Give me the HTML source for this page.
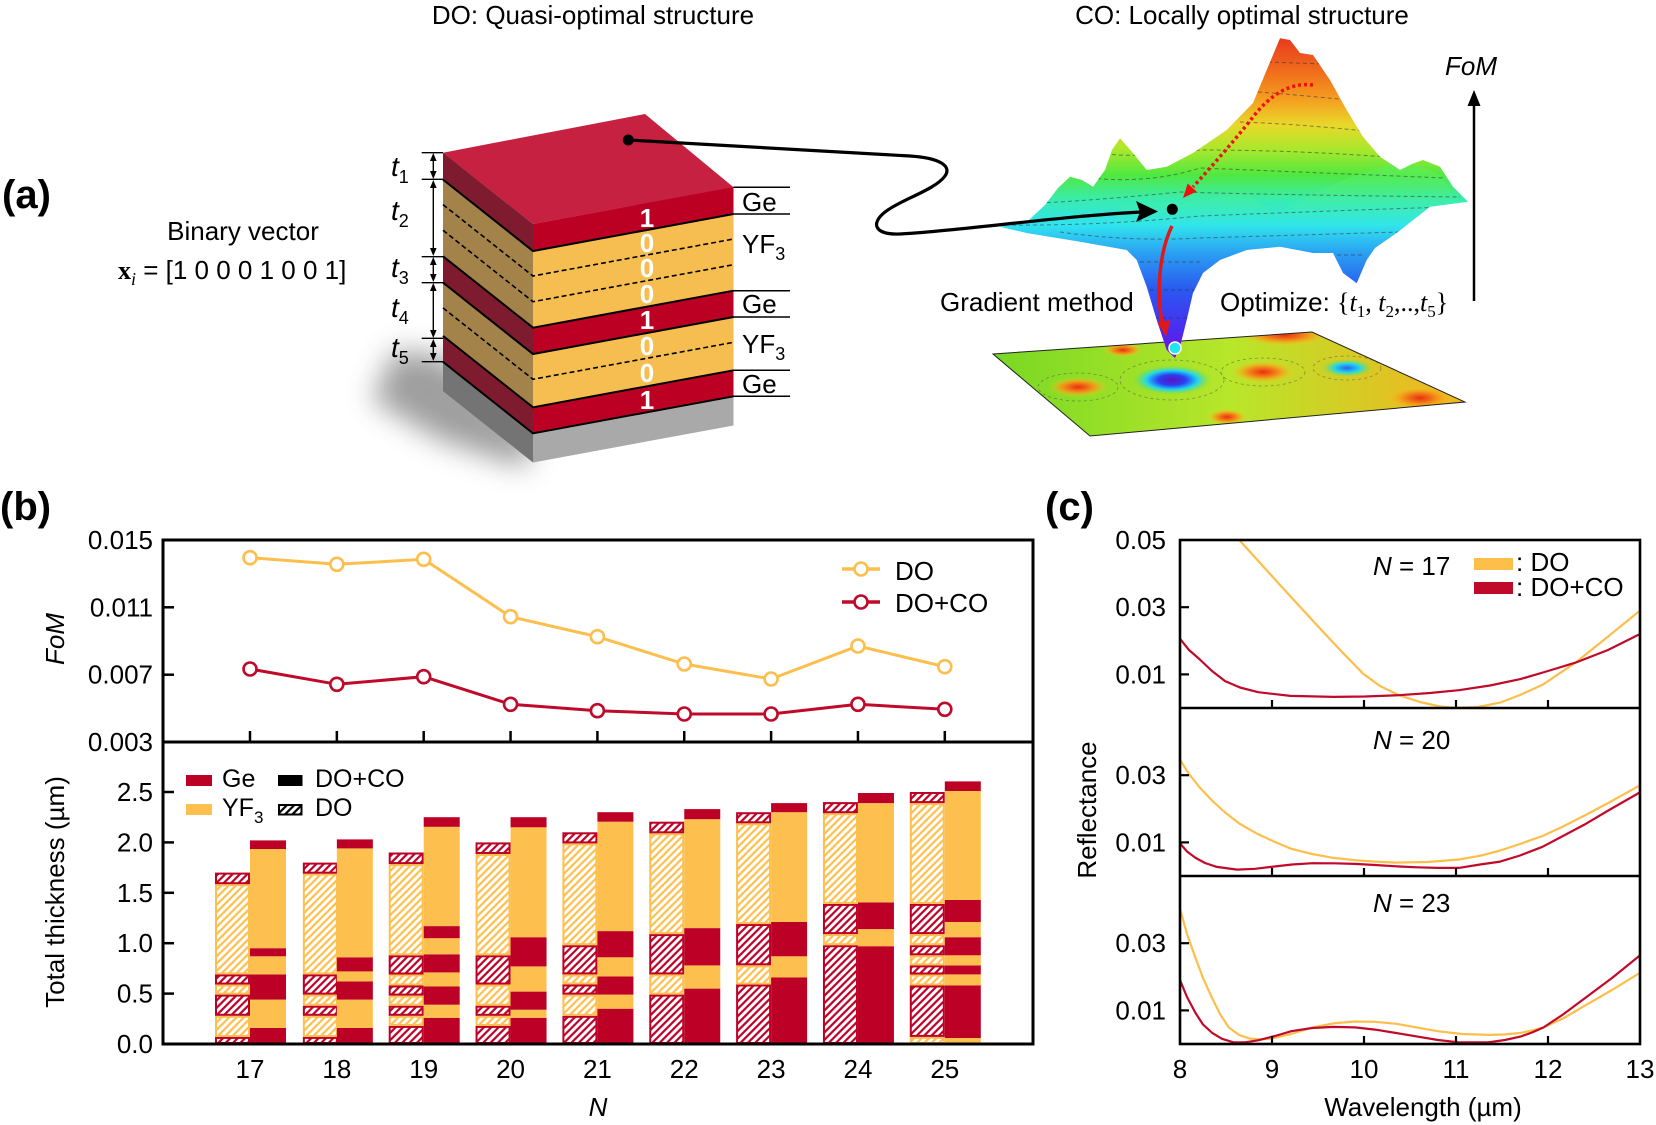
<!DOCTYPE html>
<html><head><meta charset="utf-8">
<style>
html,body{margin:0;padding:0;background:#fff;}
svg{display:block;}
text{font-family:"Liberation Sans",Arial,sans-serif;}
</style></head><body>
<svg width="1656" height="1125" viewBox="0 0 1656 1125" xmlns="http://www.w3.org/2000/svg">
<defs>
 <pattern id="hY" patternUnits="userSpaceOnUse" width="5.2" height="5.2" patternTransform="rotate(45)">
  <rect width="5.2" height="5.2" fill="#fff"/><rect x="1.5" width="2.2" height="5.2" fill="#FDC04F"/>
 </pattern>
 <pattern id="hR" patternUnits="userSpaceOnUse" width="5.2" height="5.2" patternTransform="rotate(45)">
  <rect width="5.2" height="5.2" fill="#fff"/><rect x="1.5" width="2.2" height="5.2" fill="#BD0026"/>
 </pattern>
 <pattern id="hK" patternUnits="userSpaceOnUse" width="5.2" height="5.2" patternTransform="rotate(45)">
  <rect width="5.2" height="5.2" fill="#fff"/><rect x="1.5" width="2.2" height="5.2" fill="#000"/>
 </pattern>
 <filter id="blur" x="-50%" y="-50%" width="200%" height="200%"><feGaussianBlur stdDeviation="14"/></filter>
 <linearGradient id="surf" gradientUnits="userSpaceOnUse" x1="0" y1="38" x2="0" y2="358">
  <stop offset="0" stop-color="#e83a1e"/>
  <stop offset="0.1" stop-color="#f06a1c"/>
  <stop offset="0.194" stop-color="#f5a020"/>
  <stop offset="0.272" stop-color="#e8d82a"/>
  <stop offset="0.35" stop-color="#a8e82c"/>
  <stop offset="0.428" stop-color="#50e840"/>
  <stop offset="0.506" stop-color="#38ecb0"/>
  <stop offset="0.584" stop-color="#30e4f0"/>
  <stop offset="0.678" stop-color="#2a9cf2"/>
  <stop offset="0.7875" stop-color="#2a58f0"/>
  <stop offset="0.9125" stop-color="#4a2cf0"/>
  <stop offset="1" stop-color="#7a10d8"/>
 </linearGradient>
 <linearGradient id="ridge" gradientUnits="userSpaceOnUse" x1="0" y1="160" x2="0" y2="240">
  <stop offset="0" stop-color="#60f050" stop-opacity="0.55"/>
  <stop offset="1" stop-color="#40f0d0" stop-opacity="0"/>
 </linearGradient>
 <linearGradient id="floor" gradientUnits="userSpaceOnUse" x1="993" y1="0" x2="1468" y2="0">
  <stop offset="0" stop-color="#78d824"/>
  <stop offset="0.5" stop-color="#b8e62a"/>
  <stop offset="1" stop-color="#f2b220"/>
 </linearGradient>
 <radialGradient id="gBlue">
  <stop offset="0" stop-color="#6010c0"/>
  <stop offset="0.35" stop-color="#2a40f0"/>
  <stop offset="0.65" stop-color="#20d8f0"/>
  <stop offset="1" stop-color="#80e030" stop-opacity="0"/>
 </radialGradient>
 <radialGradient id="gCyan">
  <stop offset="0" stop-color="#2a60f0"/>
  <stop offset="0.5" stop-color="#20d8f0"/>
  <stop offset="1" stop-color="#80e030" stop-opacity="0"/>
 </radialGradient>
 <radialGradient id="gOr">
  <stop offset="0" stop-color="#e83010"/>
  <stop offset="0.5" stop-color="#f39018"/>
  <stop offset="1" stop-color="#f0d020" stop-opacity="0"/>
 </radialGradient>
 <clipPath id="surfClip">
  <path d="M1000,226.7 L1026.7,222 L1045,205 L1058,188 L1070,176.7 L1082,180 L1093,186.7 L1105,170 L1112,150 L1120,138.3 L1133,153 L1146.7,170 L1166.7,166.7 L1193,153 L1226.7,130 L1253,103 L1266.7,70 L1280,38.3 L1290,40 L1300,53 L1313,55 L1330,80 L1346.7,110 L1363,136.7 L1380,156.7 L1400,170 L1412,164 L1423,160 L1440,166.7 L1453,186.7 L1468,201.7 L1430,206.7 L1396.7,233 L1375,248 L1366.7,260 L1356.7,283.3 L1343,273 L1333,253 L1313,253 L1280,246.7 L1246.7,250 L1220,260 L1203,273 L1193,293 L1186.7,320 L1180,346.7 L1175,358 L1166.7,350 L1156.7,320 L1146.7,286.7 L1136.7,260 L1126.7,250 L1080,241.7 L1026.7,233 Z"/>
 </clipPath>
 <clipPath id="floorClip"><polygon points="993,354 1312,332 1465,402 1090,436"/></clipPath>
 <clipPath id="c1"><rect x="1180" y="540" width="460" height="168"/></clipPath>
 <clipPath id="c2"><rect x="1180" y="708" width="460" height="168"/></clipPath>
 <clipPath id="c3"><rect x="1180" y="876" width="460" height="168"/></clipPath>
</defs>

<!-- ===================== PANEL (a) ===================== -->
<text x="2" y="208" font-size="40" font-weight="bold">(a)</text>
<text x="593" y="24" font-size="26" text-anchor="middle">DO: Quasi-optimal structure</text>
<text x="1242" y="24" font-size="26" text-anchor="middle">CO: Locally optimal structure</text>

<text x="243" y="240" font-size="26" text-anchor="middle">Binary vector</text>
<text x="118" y="279" font-size="26"><tspan font-family="Liberation Serif, serif" font-weight="bold">x</tspan><tspan font-family="Liberation Serif, serif" font-style="italic" font-size="18" dy="6">i</tspan><tspan dy="-6"> = [1 0 0 0 1 0 0 1]</tspan></text>

<!-- shadow -->
<polygon points="395,350 443,356 533,440 525,468 440,440 372,400" fill="#505050" opacity="0.55" filter="url(#blur)"/>

<!-- stack: top face -->
<polygon points="443,152.7 645,114 733.5,187.3 533,224" fill="#C72142"/>
<!-- right face -->
<polygon points="533,224 733.5,187 733.5,214 533,251" fill="#BC0024"/>
<polygon points="533,251 733.5,214 733.5,290.7 533,327.7" fill="#F6BE50"/>
<polygon points="533,327.7 733.5,290.7 733.5,317 533,354" fill="#BC0024"/>
<polygon points="533,354 733.5,317 733.5,370.3 533,407.3" fill="#F6BE50"/>
<polygon points="533,407.3 733.5,370.3 733.5,396.3 533,433.3" fill="#BC0024"/>
<polygon points="533,433.3 733.5,396.3 733.5,425.5 533,462.5" fill="#A9A9A9"/>
<!-- left face -->
<polygon points="443,152.6 533,224 533,251 443,179.6" fill="#7F1B2E"/>
<polygon points="443,179.6 533,251 533,327.7 443,256.3" fill="#A3834A"/>
<polygon points="443,256.3 533,327.7 533,354 443,282.6" fill="#7F1B2E"/>
<polygon points="443,282.6 533,354 533,407.3 443,335.9" fill="#A3834A"/>
<polygon points="443,335.9 533,407.3 533,433.3 443,361.9" fill="#7F1B2E"/>
<polygon points="443,361.9 533,433.3 533,462.5 443,391.1" fill="#747474"/>
<!-- boundary lines -->
<g fill="none" stroke="#000" stroke-width="2">
 <polyline points="443,179.6 533,251 733.5,214"/>
 <polyline points="443,256.3 533,327.7 733.5,290.7"/>
 <polyline points="443,282.6 533,354 733.5,317"/>
 <polyline points="443,335.9 533,407.3 733.5,370.3"/>
 <polyline points="443,361.9 533,433.3 733.5,396.3"/>
</g>
<g fill="none" stroke="#000" stroke-width="1.6" stroke-dasharray="5,3">
 <polyline points="443,204.6 533,276 733.5,239"/>
 <polyline points="443,230.3 533,301.7 733.5,264.7"/>
 <polyline points="443,307.9 533,379.3 733.5,342.3"/>
</g>
<!-- binary digits -->
<g font-size="26" font-weight="bold" text-anchor="middle" fill="#ffffff" style="fill:#ffffff">
 <text x="647" y="227" style="fill:#fff">1</text>
 <text x="647" y="252" style="fill:#fff">0</text>
 <text x="647" y="277" style="fill:#fff">0</text>
 <text x="647" y="303" style="fill:#fff">0</text>
 <text x="647" y="329" style="fill:#fff">1</text>
 <text x="647" y="355" style="fill:#fff">0</text>
 <text x="647" y="382" style="fill:#fff">0</text>
 <text x="647" y="409" style="fill:#fff">1</text>
</g>
<!-- material labels -->
<g stroke="#000" stroke-width="1.5">
 <line x1="733.5" y1="187.3" x2="790" y2="187.3"/>
 <line x1="733.5" y1="214" x2="790" y2="214"/>
 <line x1="733.5" y1="290.7" x2="790" y2="290.7"/>
 <line x1="733.5" y1="317" x2="790" y2="317"/>
 <line x1="733.5" y1="370.3" x2="790" y2="370.3"/>
 <line x1="733.5" y1="396.3" x2="790" y2="396.3"/>
</g>
<text x="742" y="211" font-size="26">Ge</text>
<text x="742" y="253" font-size="26">YF<tspan font-size="18" dy="7">3</tspan></text>
<text x="742" y="313" font-size="26">Ge</text>
<text x="742" y="353" font-size="26">YF<tspan font-size="18" dy="7">3</tspan></text>
<text x="742" y="393" font-size="26">Ge</text>

<!-- thickness markers -->
<g stroke="#000" stroke-width="1.4">
 <line x1="421.7" y1="152.7" x2="443" y2="152.7"/>
 <line x1="421.7" y1="179.3" x2="443" y2="179.3"/>
 <line x1="421.7" y1="256.7" x2="443" y2="256.7"/>
 <line x1="421.7" y1="282.7" x2="443" y2="282.7"/>
 <line x1="421.7" y1="338.3" x2="443" y2="338.3"/>
 <line x1="421.7" y1="361.7" x2="443" y2="361.7"/>
 <line x1="433.3" y1="155" x2="433.3" y2="177"/>
 <line x1="433.3" y1="182" x2="433.3" y2="254"/>
 <line x1="433.3" y1="259" x2="433.3" y2="280"/>
 <line x1="433.3" y1="285" x2="433.3" y2="336"/>
 <line x1="433.3" y1="341" x2="433.3" y2="359"/>
</g>
<g fill="#000">
 <polygon points="433.3,153 430,161 436.6,161"/><polygon points="433.3,179 430,171 436.6,171"/>
 <polygon points="433.3,180 430,188 436.6,188"/><polygon points="433.3,256 430,248 436.6,248"/>
 <polygon points="433.3,257 430,265 436.6,265"/><polygon points="433.3,282 430,274 436.6,274"/>
 <polygon points="433.3,283 430,291 436.6,291"/><polygon points="433.3,338 430,330 436.6,330"/>
 <polygon points="433.3,339 430,347 436.6,347"/><polygon points="433.3,361 430,353 436.6,353"/>
</g>
<g font-family="Liberation Serif, serif" font-style="italic" font-size="28">
 <text x="391" y="176">t<tspan font-style="normal" font-size="18" dy="7">1</tspan></text>
 <text x="391" y="220">t<tspan font-style="normal" font-size="18" dy="7">2</tspan></text>
 <text x="391" y="277">t<tspan font-style="normal" font-size="18" dy="7">3</tspan></text>
 <text x="391" y="317">t<tspan font-style="normal" font-size="18" dy="7">4</tspan></text>
 <text x="391" y="357">t<tspan font-style="normal" font-size="18" dy="7">5</tspan></text>
</g>

<!-- floor -->
<polygon points="993,354 1312,332 1465,402 1090,436" fill="url(#floor)"/>
<g clip-path="url(#floorClip)">
 <ellipse cx="1078" cy="387" rx="30" ry="10" fill="url(#gOr)"/>
 <ellipse cx="1263" cy="372" rx="32" ry="11" fill="url(#gOr)"/>
 <ellipse cx="1420" cy="398" rx="34" ry="12" fill="url(#gOr)"/>
 <ellipse cx="1285" cy="335" rx="45" ry="11" fill="url(#gOr)"/>
 <ellipse cx="1227" cy="417" rx="20" ry="8" fill="url(#gOr)"/>
 <ellipse cx="1123" cy="350" rx="20" ry="7" fill="url(#gOr)"/>
 <ellipse cx="1347" cy="368" rx="26" ry="9" fill="url(#gCyan)"/>
 <ellipse cx="1172" cy="380" rx="40" ry="15" fill="url(#gBlue)"/>
 <g fill="none" stroke="#444" stroke-width="0.8" stroke-dasharray="3,3" opacity="0.5">
  <ellipse cx="1172" cy="380" rx="52" ry="20"/>
  <ellipse cx="1078" cy="387" rx="40" ry="14"/>
  <ellipse cx="1263" cy="372" rx="42" ry="14"/>
  <ellipse cx="1347" cy="368" rx="34" ry="12"/>
 </g>
</g>
<polygon points="993,354 1312,332 1465,402 1090,436" fill="none" stroke="#222" stroke-width="1"/>

<!-- surface -->
<path d="M1000,226.7 L1026.7,222 L1045,205 L1058,188 L1070,176.7 L1082,180 L1093,186.7 L1105,170 L1112,150 L1120,138.3 L1133,153 L1146.7,170 L1166.7,166.7 L1193,153 L1226.7,130 L1253,103 L1266.7,70 L1280,38.3 L1290,40 L1300,53 L1313,55 L1330,80 L1346.7,110 L1363,136.7 L1380,156.7 L1400,170 L1412,164 L1423,160 L1440,166.7 L1453,186.7 L1468,201.7 L1430,206.7 L1396.7,233 L1375,248 L1366.7,260 L1356.7,283.3 L1343,273 L1333,253 L1313,253 L1280,246.7 L1246.7,250 L1220,260 L1203,273 L1193,293 L1186.7,320 L1180,346.7 L1175,358 L1166.7,350 L1156.7,320 L1146.7,286.7 L1136.7,260 L1126.7,250 L1080,241.7 L1026.7,233 Z" fill="url(#surf)"/>
<g clip-path="url(#surfClip)">
 <path d="M1120,205 C1160,200 1200,205 1236,193 C1250,190 1260,205 1275,212 C1300,205 1330,180 1380,168 C1400,160 1413,162 1440,175 L1460,205 L1420,230 L1330,240 L1250,245 L1150,245 L1110,240 Z" fill="url(#ridge)"/>
 <g fill="none" stroke="#333" stroke-width="1" stroke-dasharray="4,3" opacity="0.55">
  <path d="M1268,62 L1325,64"/>
  <path d="M1258,92 Q1300,95 1348,100"/>
  <path d="M1240,122 Q1300,124 1375,132"/>
  <path d="M1105,154 Q1150,158 1200,150 Q1300,150 1400,158"/>
  <path d="M1090,178 Q1150,184 1200,168 Q1300,172 1445,178"/>
  <path d="M1040,203 Q1100,200 1180,192 Q1280,195 1460,197"/>
  <path d="M1005,225 Q1100,226 1200,216 Q1300,212 1445,207"/>
  <path d="M1060,232 Q1130,242 1200,238 Q1300,235 1400,232"/>
  <path d="M1140,262 L1200,262"/>
  <path d="M1150,290 L1195,290"/>
  <path d="M1155,318 L1190,318"/>
  <path d="M1330,255 L1365,255"/>
 </g>
</g>

<!-- connector from stack to surface -->
<path d="M628,140 L910,156 C940,158 952,166 945,176 C935,190 900,200 885,212 C870,224 875,235 900,234 C960,231 1060,216 1142,212" fill="none" stroke="#000" stroke-width="3.2"/>
<polygon points="1158,211.5 1136,201 1140,212 1136,222" fill="#000"/>
<circle cx="628.3" cy="140" r="5.5" fill="#000"/>
<circle cx="1172.3" cy="209.3" r="5.5" fill="#000"/>

<!-- red dotted path -->
<path d="M1313,85 C1290,82 1270,95 1253,117 C1235,140 1212,166 1193,187" fill="none" stroke="#f01010" stroke-width="3.5" stroke-dasharray="3,3"/>
<polygon points="1183,198 1196.7,191.5 1187.7,183.5" fill="#f01010"/>
<!-- red gradient arrow -->
<path d="M1172,226 C1160,250 1156,290 1162,322" fill="none" stroke="#e01818" stroke-width="3.5"/>
<polygon points="1166,337 1170.5,320 1157.5,322.5" fill="#e01818"/>
<circle cx="1175" cy="348" r="6" fill="#20e6f2" stroke="#fff" stroke-width="1.5"/>

<text x="940" y="311" font-size="26">Gradient method</text>
<text x="1220" y="311" font-size="26">Optimize: <tspan font-family="Liberation Serif, serif">{</tspan><tspan font-family="Liberation Serif, serif" font-style="italic">t</tspan><tspan font-family="Liberation Serif, serif" font-size="17" dy="6">1</tspan><tspan font-family="Liberation Serif, serif" dy="-6">, </tspan><tspan font-family="Liberation Serif, serif" font-style="italic">t</tspan><tspan font-family="Liberation Serif, serif" font-size="17" dy="6">2</tspan><tspan font-family="Liberation Serif, serif" dy="-6">,..,</tspan><tspan font-family="Liberation Serif, serif" font-style="italic">t</tspan><tspan font-family="Liberation Serif, serif" font-size="17" dy="6">5</tspan><tspan font-family="Liberation Serif, serif" dy="-6">}</tspan></text>

<!-- FoM arrow -->
<line x1="1474" y1="301" x2="1474" y2="104" stroke="#000" stroke-width="2.5"/>
<polygon points="1474,90 1467.5,106 1480.5,106" fill="#000"/>
<text x="1471" y="75" font-size="26" font-style="italic" text-anchor="middle">FoM</text>

<!-- ===================== PANEL (b) ===================== -->
<text x="0" y="520" font-size="40" font-weight="bold">(b)</text>

<!-- bars -->
<g>
<!-- 17 DO -->
<g stroke-width="2">
<rect x="216" y="1037.9" width="33" height="5.1" fill="url(#hR)" stroke="#BD0026"/>
<rect x="216" y="1016.8" width="33" height="19.2" fill="url(#hY)" stroke="#FDC04F"/>
<rect x="216" y="995.6" width="33" height="19.2" fill="url(#hR)" stroke="#BD0026"/>
<rect x="216" y="985.5" width="33" height="8.1" fill="url(#hY)" stroke="#FDC04F"/>
<rect x="216" y="975.4" width="33" height="8.1" fill="url(#hR)" stroke="#BD0026"/>
<rect x="216" y="885.2" width="33" height="88.2" fill="url(#hY)" stroke="#FDC04F"/>
<rect x="216" y="873.6" width="33" height="9.6" fill="url(#hR)" stroke="#BD0026"/>
</g>
<!-- 17 CO -->
<rect x="250" y="1027.9" width="36" height="16.1" fill="#BD0026"/>
<rect x="250" y="999.6" width="36" height="28.3" fill="#FDC04F"/>
<rect x="250" y="974.4" width="36" height="25.2" fill="#BD0026"/>
<rect x="250" y="956.3" width="36" height="18.1" fill="#FDC04F"/>
<rect x="250" y="948.2" width="36" height="8.1" fill="#BD0026"/>
<rect x="250" y="849.0" width="36" height="99.2" fill="#FDC04F"/>
<rect x="250" y="840.4" width="36" height="8.6" fill="#BD0026"/>
<!-- 18 DO -->
<g stroke-width="2">
<rect x="303.85" y="1037.9" width="33" height="5.1" fill="url(#hR)" stroke="#BD0026"/>
<rect x="303.85" y="1016.8" width="33" height="19.2" fill="url(#hY)" stroke="#FDC04F"/>
<rect x="303.85" y="1006.7" width="33" height="8.1" fill="url(#hR)" stroke="#BD0026"/>
<rect x="303.85" y="995.6" width="33" height="9.1" fill="url(#hY)" stroke="#FDC04F"/>
<rect x="303.85" y="975.4" width="33" height="18.2" fill="url(#hR)" stroke="#BD0026"/>
<rect x="303.85" y="874.6" width="33" height="98.8" fill="url(#hY)" stroke="#FDC04F"/>
<rect x="303.85" y="863.6" width="33" height="9.1" fill="url(#hR)" stroke="#BD0026"/>
</g>
<!-- 18 CO -->
<rect x="336.85" y="1027.9" width="36" height="16.1" fill="#BD0026"/>
<rect x="336.85" y="999.6" width="36" height="28.3" fill="#FDC04F"/>
<rect x="336.85" y="981.5" width="36" height="18.1" fill="#BD0026"/>
<rect x="336.85" y="971.4" width="36" height="10.1" fill="#FDC04F"/>
<rect x="336.85" y="957.3" width="36" height="14.1" fill="#BD0026"/>
<rect x="336.85" y="848.4" width="36" height="108.9" fill="#FDC04F"/>
<rect x="336.85" y="839.4" width="36" height="9.0" fill="#BD0026"/>
<!-- 19 DO -->
<g stroke-width="2">
<rect x="389.7" y="1026.9" width="33" height="16.1" fill="url(#hR)" stroke="#BD0026"/>
<rect x="389.7" y="1016.8" width="33" height="8.1" fill="url(#hY)" stroke="#FDC04F"/>
<rect x="389.7" y="1006.7" width="33" height="8.1" fill="url(#hR)" stroke="#BD0026"/>
<rect x="389.7" y="996.6" width="33" height="8.1" fill="url(#hY)" stroke="#FDC04F"/>
<rect x="389.7" y="986.5" width="33" height="8.1" fill="url(#hR)" stroke="#BD0026"/>
<rect x="389.7" y="975.4" width="33" height="9.1" fill="url(#hY)" stroke="#FDC04F"/>
<rect x="389.7" y="956.3" width="33" height="17.2" fill="url(#hR)" stroke="#BD0026"/>
<rect x="389.7" y="865.1" width="33" height="89.2" fill="url(#hY)" stroke="#FDC04F"/>
<rect x="389.7" y="853.5" width="33" height="9.6" fill="url(#hR)" stroke="#BD0026"/>
</g>
<!-- 19 CO -->
<rect x="423.7" y="1017.8" width="36" height="26.2" fill="#BD0026"/>
<rect x="423.7" y="1004.7" width="36" height="13.1" fill="#FDC04F"/>
<rect x="423.7" y="986.5" width="36" height="18.2" fill="#BD0026"/>
<rect x="423.7" y="972.4" width="36" height="14.1" fill="#FDC04F"/>
<rect x="423.7" y="954.3" width="36" height="18.1" fill="#BD0026"/>
<rect x="423.7" y="938.2" width="36" height="16.1" fill="#FDC04F"/>
<rect x="423.7" y="926.1" width="36" height="12.1" fill="#BD0026"/>
<rect x="423.7" y="826.8" width="36" height="99.3" fill="#FDC04F"/>
<rect x="423.7" y="817.2" width="36" height="9.6" fill="#BD0026"/>
<!-- 20 DO -->
<g stroke-width="2">
<rect x="476.55" y="1026.9" width="33" height="16.1" fill="url(#hR)" stroke="#BD0026"/>
<rect x="476.55" y="1016.8" width="33" height="8.1" fill="url(#hY)" stroke="#FDC04F"/>
<rect x="476.55" y="1006.7" width="33" height="8.1" fill="url(#hR)" stroke="#BD0026"/>
<rect x="476.55" y="985.5" width="33" height="19.2" fill="url(#hY)" stroke="#FDC04F"/>
<rect x="476.55" y="956.3" width="33" height="27.2" fill="url(#hR)" stroke="#BD0026"/>
<rect x="476.55" y="855.0" width="33" height="99.3" fill="url(#hY)" stroke="#FDC04F"/>
<rect x="476.55" y="843.4" width="33" height="9.6" fill="url(#hR)" stroke="#BD0026"/>
</g>
<!-- 20 CO -->
<rect x="510.55" y="1017.8" width="36" height="26.2" fill="#BD0026"/>
<rect x="510.55" y="1009.7" width="36" height="8.1" fill="#FDC04F"/>
<rect x="510.55" y="991.6" width="36" height="18.1" fill="#BD0026"/>
<rect x="510.55" y="966.4" width="36" height="25.2" fill="#FDC04F"/>
<rect x="510.55" y="937.2" width="36" height="29.2" fill="#BD0026"/>
<rect x="510.55" y="827.3" width="36" height="109.9" fill="#FDC04F"/>
<rect x="510.55" y="817.2" width="36" height="10.1" fill="#BD0026"/>
<!-- 21 DO -->
<g stroke-width="2">
<rect x="563.4" y="1016.8" width="33" height="26.2" fill="url(#hR)" stroke="#BD0026"/>
<rect x="563.4" y="995.6" width="33" height="19.2" fill="url(#hY)" stroke="#FDC04F"/>
<rect x="563.4" y="985.5" width="33" height="8.1" fill="url(#hR)" stroke="#BD0026"/>
<rect x="563.4" y="975.4" width="33" height="8.1" fill="url(#hY)" stroke="#FDC04F"/>
<rect x="563.4" y="946.2" width="33" height="27.2" fill="url(#hR)" stroke="#BD0026"/>
<rect x="563.4" y="844.4" width="33" height="99.8" fill="url(#hY)" stroke="#FDC04F"/>
<rect x="563.4" y="833.3" width="33" height="9.1" fill="url(#hR)" stroke="#BD0026"/>
</g>
<!-- 21 CO -->
<rect x="597.4" y="1008.7" width="36" height="35.3" fill="#BD0026"/>
<rect x="597.4" y="994.6" width="36" height="14.1" fill="#FDC04F"/>
<rect x="597.4" y="976.5" width="36" height="18.1" fill="#BD0026"/>
<rect x="597.4" y="957.3" width="36" height="19.2" fill="#FDC04F"/>
<rect x="597.4" y="931.1" width="36" height="26.2" fill="#BD0026"/>
<rect x="597.4" y="821.7" width="36" height="109.4" fill="#FDC04F"/>
<rect x="597.4" y="812.2" width="36" height="9.5" fill="#BD0026"/>
<!-- 22 DO -->
<g stroke-width="2">
<rect x="650.25" y="995.6" width="33" height="47.4" fill="url(#hR)" stroke="#BD0026"/>
<rect x="650.25" y="975.4" width="33" height="18.2" fill="url(#hY)" stroke="#FDC04F"/>
<rect x="650.25" y="935.1" width="33" height="38.3" fill="url(#hR)" stroke="#BD0026"/>
<rect x="650.25" y="834.3" width="33" height="98.8" fill="url(#hY)" stroke="#FDC04F"/>
<rect x="650.25" y="822.7" width="33" height="9.6" fill="url(#hR)" stroke="#BD0026"/>
</g>
<!-- 22 CO -->
<rect x="684.25" y="988.6" width="36" height="55.4" fill="#BD0026"/>
<rect x="684.25" y="965.4" width="36" height="23.2" fill="#FDC04F"/>
<rect x="684.25" y="928.1" width="36" height="37.3" fill="#BD0026"/>
<rect x="684.25" y="819.2" width="36" height="108.9" fill="#FDC04F"/>
<rect x="684.25" y="809.1" width="36" height="10.1" fill="#BD0026"/>
<!-- 23 DO -->
<g stroke-width="2">
<rect x="737.1" y="985.5" width="33" height="57.5" fill="url(#hR)" stroke="#BD0026"/>
<rect x="737.1" y="966.4" width="33" height="17.2" fill="url(#hY)" stroke="#FDC04F"/>
<rect x="737.1" y="925.0" width="33" height="39.3" fill="url(#hR)" stroke="#BD0026"/>
<rect x="737.1" y="824.3" width="33" height="98.8" fill="url(#hY)" stroke="#FDC04F"/>
<rect x="737.1" y="813.2" width="33" height="9.1" fill="url(#hR)" stroke="#BD0026"/>
</g>
<!-- 23 CO -->
<rect x="771.1" y="977.5" width="36" height="66.5" fill="#BD0026"/>
<rect x="771.1" y="956.3" width="36" height="21.2" fill="#FDC04F"/>
<rect x="771.1" y="922.0" width="36" height="34.3" fill="#BD0026"/>
<rect x="771.1" y="812.2" width="36" height="109.8" fill="#FDC04F"/>
<rect x="771.1" y="803.1" width="36" height="9.1" fill="#BD0026"/>
<!-- 24 DO -->
<g stroke-width="2">
<rect x="823.95" y="946.2" width="33" height="96.8" fill="url(#hR)" stroke="#BD0026"/>
<rect x="823.95" y="935.1" width="33" height="9.1" fill="url(#hY)" stroke="#FDC04F"/>
<rect x="823.95" y="904.9" width="33" height="28.2" fill="url(#hR)" stroke="#BD0026"/>
<rect x="823.95" y="814.2" width="33" height="88.7" fill="url(#hY)" stroke="#FDC04F"/>
<rect x="823.95" y="803.1" width="33" height="9.1" fill="url(#hR)" stroke="#BD0026"/>
</g>
<!-- 24 CO -->
<rect x="857.95" y="946.2" width="36" height="97.8" fill="#BD0026"/>
<rect x="857.95" y="929.1" width="36" height="17.1" fill="#FDC04F"/>
<rect x="857.95" y="902.4" width="36" height="26.7" fill="#BD0026"/>
<rect x="857.95" y="803.1" width="36" height="99.3" fill="#FDC04F"/>
<rect x="857.95" y="793.0" width="36" height="10.1" fill="#BD0026"/>
<!-- 25 DO -->
<g stroke-width="2">
<rect x="910.8" y="1037.9" width="33" height="5.1" fill="url(#hY)" stroke="#FDC04F"/>
<rect x="910.8" y="986.5" width="33" height="49.4" fill="url(#hR)" stroke="#BD0026"/>
<rect x="910.8" y="975.4" width="33" height="9.1" fill="url(#hY)" stroke="#FDC04F"/>
<rect x="910.8" y="966.4" width="33" height="7.1" fill="url(#hR)" stroke="#BD0026"/>
<rect x="910.8" y="956.3" width="33" height="8.1" fill="url(#hY)" stroke="#FDC04F"/>
<rect x="910.8" y="946.2" width="33" height="8.1" fill="url(#hR)" stroke="#BD0026"/>
<rect x="910.8" y="935.1" width="33" height="9.1" fill="url(#hY)" stroke="#FDC04F"/>
<rect x="910.8" y="904.9" width="33" height="28.2" fill="url(#hR)" stroke="#BD0026"/>
<rect x="910.8" y="804.1" width="33" height="98.8" fill="url(#hY)" stroke="#FDC04F"/>
<rect x="910.8" y="793.0" width="33" height="9.1" fill="url(#hR)" stroke="#BD0026"/>
</g>
<!-- 25 CO -->
<rect x="944.8" y="1038.0" width="36" height="6.0" fill="#FDC04F"/>
<rect x="944.8" y="985.5" width="36" height="52.5" fill="#BD0026"/>
<rect x="944.8" y="974.4" width="36" height="11.1" fill="#FDC04F"/>
<rect x="944.8" y="965.4" width="36" height="9.0" fill="#BD0026"/>
<rect x="944.8" y="955.3" width="36" height="10.1" fill="#FDC04F"/>
<rect x="944.8" y="937.2" width="36" height="18.1" fill="#BD0026"/>
<rect x="944.8" y="922.0" width="36" height="15.2" fill="#FDC04F"/>
<rect x="944.8" y="899.9" width="36" height="22.1" fill="#BD0026"/>
<rect x="944.8" y="791.0" width="36" height="108.9" fill="#FDC04F"/>
<rect x="944.8" y="781.4" width="36" height="9.6" fill="#BD0026"/>
</g>

<!-- bar legend -->
<rect x="186" y="775" width="26" height="11" fill="#BD0026"/>
<text x="222" y="787" font-size="25">Ge</text>
<rect x="186" y="804" width="26" height="11" fill="#FDC04F"/>
<text x="222" y="816" font-size="25">YF<tspan font-size="17" dy="7">3</tspan></text>
<rect x="278" y="775" width="24.5" height="11" fill="#000"/>
<text x="315" y="787" font-size="25">DO+CO</text>
<rect x="279" y="805" width="22.5" height="9.5" fill="url(#hK)" stroke="#000" stroke-width="2"/>
<text x="315" y="816" font-size="25">DO</text>

<!-- FoM lines -->
<polyline points="250,557.7 336.85,564.3 423.7,559.3 510.55,616.7 597.4,636.7 684.25,664 771.1,679 857.95,646 944.8,666.7" fill="none" stroke="#FCBE4C" stroke-width="3"/>
<polyline points="250,669 336.85,684.3 423.7,676.7 510.55,704.3 597.4,710.7 684.25,714 771.1,714 857.95,704.3 944.8,709.3" fill="none" stroke="#BF0A2B" stroke-width="3"/>
<g fill="#fff" stroke="#FCBE4C" stroke-width="2.6">
 <circle cx="250" cy="557.7" r="6.5"/><circle cx="336.85" cy="564.3" r="6.5"/><circle cx="423.7" cy="559.3" r="6.5"/>
 <circle cx="510.55" cy="616.7" r="6.5"/><circle cx="597.4" cy="636.7" r="6.5"/><circle cx="684.25" cy="664" r="6.5"/>
 <circle cx="771.1" cy="679" r="6.5"/><circle cx="857.95" cy="646" r="6.5"/><circle cx="944.8" cy="666.7" r="6.5"/>
</g>
<g fill="#fff" stroke="#BF0A2B" stroke-width="2.6">
 <circle cx="250" cy="669" r="6.5"/><circle cx="336.85" cy="684.3" r="6.5"/><circle cx="423.7" cy="676.7" r="6.5"/>
 <circle cx="510.55" cy="704.3" r="6.5"/><circle cx="597.4" cy="710.7" r="6.5"/><circle cx="684.25" cy="714" r="6.5"/>
 <circle cx="771.1" cy="714" r="6.5"/><circle cx="857.95" cy="704.3" r="6.5"/><circle cx="944.8" cy="709.3" r="6.5"/>
</g>
<!-- FoM legend -->
<line x1="842" y1="569" x2="880" y2="569" stroke="#FCBE4C" stroke-width="3.5"/>
<circle cx="861" cy="569" r="6.5" fill="#fff" stroke="#FCBE4C" stroke-width="2.6"/>
<text x="895" y="580" font-size="26">DO</text>
<line x1="842" y1="602" x2="880" y2="602" stroke="#BF0A2B" stroke-width="3.5"/>
<circle cx="861" cy="602" r="6.5" fill="#fff" stroke="#BF0A2B" stroke-width="2.6"/>
<text x="895" y="612" font-size="26">DO+CO</text>

<!-- (b) axes -->
<rect x="163" y="540" width="870" height="504" fill="none" stroke="#000" stroke-width="3"/>
<line x1="163" y1="742" x2="1033" y2="742" stroke="#000" stroke-width="3"/>
<g stroke="#000" stroke-width="2.5">
 <line x1="163" y1="607.3" x2="174" y2="607.3"/>
 <line x1="163" y1="674.7" x2="174" y2="674.7"/>
 <line x1="163" y1="792" x2="174" y2="792"/>
 <line x1="163" y1="842.4" x2="174" y2="842.4"/>
 <line x1="163" y1="892.8" x2="174" y2="892.8"/>
 <line x1="163" y1="943.2" x2="174" y2="943.2"/>
 <line x1="163" y1="993.6" x2="174" y2="993.6"/>
 <line x1="250" y1="731" x2="250" y2="742"/>
 <line x1="336.85" y1="731" x2="336.85" y2="742"/>
 <line x1="423.7" y1="731" x2="423.7" y2="742"/>
 <line x1="510.55" y1="731" x2="510.55" y2="742"/>
 <line x1="597.4" y1="731" x2="597.4" y2="742"/>
 <line x1="684.25" y1="731" x2="684.25" y2="742"/>
 <line x1="771.1" y1="731" x2="771.1" y2="742"/>
 <line x1="857.95" y1="731" x2="857.95" y2="742"/>
 <line x1="944.8" y1="731" x2="944.8" y2="742"/>
</g>
<g font-size="26" text-anchor="end">
 <text x="153" y="549">0.015</text>
 <text x="153" y="616.3">0.011</text>
 <text x="153" y="683.7">0.007</text>
 <text x="153" y="751">0.003</text>
 <text x="153" y="801">2.5</text>
 <text x="153" y="851.4">2.0</text>
 <text x="153" y="901.8">1.5</text>
 <text x="153" y="952.2">1.0</text>
 <text x="153" y="1002.6">0.5</text>
 <text x="153" y="1053">0.0</text>
</g>
<g font-size="26" text-anchor="middle">
 <text x="250" y="1078">17</text><text x="336.85" y="1078">18</text><text x="423.7" y="1078">19</text>
 <text x="510.55" y="1078">20</text><text x="597.4" y="1078">21</text><text x="684.25" y="1078">22</text>
 <text x="771.1" y="1078">23</text><text x="857.95" y="1078">24</text><text x="944.8" y="1078">25</text>
</g>
<text x="598" y="1116" font-size="26" font-style="italic" text-anchor="middle">N</text>
<text transform="translate(64,639) rotate(-90)" font-size="26" font-style="italic" text-anchor="middle">FoM</text>
<text transform="translate(64,892) rotate(-90)" font-size="26" text-anchor="middle">Total thickness (µm)</text>

<!-- ===================== PANEL (c) ===================== -->
<text x="1045" y="520" font-size="40" font-weight="bold">(c)</text>

<g fill="none" stroke-width="2.2" stroke-linejoin="round">
 <g clip-path="url(#c1)">
  <polyline stroke="#FDBE4A" points="1232,528 1239.3,540 1280,585 1320.8,629.4 1343,653 1363.1,673.7 1380,686 1399,695.2 1420,702 1440,706.5 1456,708 1478,707 1500.2,702.6 1520,695 1542.5,684.8 1575.6,662.6 1605,639 1640,610.6"/>
  <polyline stroke="#C00A2A" points="1180,638.8 1189,650 1199.3,659 1212,671 1225.1,681.1 1240,687.5 1258.2,692.2 1290.4,695.9 1333.6,696.9 1365,696.5 1399,695.2 1430,693 1458.8,690.2 1490,685.5 1520.4,679.1 1548,671 1575.6,662.6 1608,650 1640,634"/>
 </g>
 <g clip-path="url(#c2)">
  <polyline stroke="#FDBE4A" points="1180,759.7 1189,774 1199.3,787 1212,800.5 1225.1,812.5 1240,824 1258.2,834.3 1275,842 1291.3,848.8 1312,854 1333.6,857.9 1355,860.2 1375,861.6 1396.2,862.6 1428,862 1458.8,859.5 1480,855.8 1500.2,850.5 1520,844 1542.5,836 1562,827 1583.9,815.9 1610,802 1640,785.3"/>
  <polyline stroke="#C00A2A" points="1180,843.4 1187,851.5 1195.6,857.9 1205,863 1216.8,866.9 1237,869.6 1255,868.8 1271.1,866.9 1292,864.5 1312.5,863.2 1334,863.3 1354.8,863.9 1375,865 1396.2,866.3 1417,867.3 1437.6,867.9 1458.8,867.9 1480,864.5 1500.2,861.6 1520,855.5 1542.5,846.8 1562,836.5 1583.9,824.9 1610,809.5 1640,792.3"/>
 </g>
 <g clip-path="url(#c3)">
  <polyline stroke="#FDBE4A" points="1180,908.9 1187,934 1195.6,958.3 1203,978 1212.2,998.3 1220,1014 1228.8,1027.5 1239,1035 1249.9,1038.6 1260,1039.3 1271.1,1038.6 1291,1034 1312.5,1027.5 1334,1023.3 1354.8,1021.5 1375,1021.8 1396.2,1023.8 1417,1027.5 1437.6,1031.2 1462,1034 1488.2,1034.9 1505,1034.5 1520.4,1032.9 1532,1030.5 1543.4,1027.5 1563,1018.5 1584.8,1005.7 1612,990 1640,972.8"/>
  <polyline stroke="#C00A2A" points="1180,980.2 1187,997 1195.6,1013.1 1203,1024.5 1212.2,1032.9 1222,1038.8 1233.4,1042.3 1245,1042.3 1258.2,1040.3 1275,1036 1291.3,1031.2 1312,1028 1333.6,1026.9 1355,1027.4 1375,1029.6 1396,1033 1417.4,1036.6 1438,1040 1458.8,1042.3 1488.2,1042.3 1505,1040 1520.4,1036.6 1532,1032.5 1543.4,1027.5 1563,1014.5 1584.8,998.3 1612,978 1640,955.3"/>
 </g>
</g>

<rect x="1180" y="540" width="460" height="504" fill="none" stroke="#000" stroke-width="2.6"/>
<line x1="1180" y1="708" x2="1640" y2="708" stroke="#000" stroke-width="2.6"/>
<line x1="1180" y1="876" x2="1640" y2="876" stroke="#000" stroke-width="2.6"/>
<g stroke="#000" stroke-width="2.2">
 <line x1="1180" y1="607.2" x2="1189" y2="607.2"/>
 <line x1="1180" y1="674.4" x2="1189" y2="674.4"/>
 <line x1="1180" y1="775.2" x2="1189" y2="775.2"/>
 <line x1="1180" y1="842.4" x2="1189" y2="842.4"/>
 <line x1="1180" y1="943.2" x2="1189" y2="943.2"/>
 <line x1="1180" y1="1010.4" x2="1189" y2="1010.4"/>
 <line x1="1272" y1="700" x2="1272" y2="708"/><line x1="1364" y1="700" x2="1364" y2="708"/>
 <line x1="1456" y1="700" x2="1456" y2="708"/><line x1="1548" y1="700" x2="1548" y2="708"/>
 <line x1="1272" y1="868" x2="1272" y2="876"/><line x1="1364" y1="868" x2="1364" y2="876"/>
 <line x1="1456" y1="868" x2="1456" y2="876"/><line x1="1548" y1="868" x2="1548" y2="876"/>
 <line x1="1272" y1="1036" x2="1272" y2="1044"/><line x1="1364" y1="1036" x2="1364" y2="1044"/>
 <line x1="1456" y1="1036" x2="1456" y2="1044"/><line x1="1548" y1="1036" x2="1548" y2="1044"/>
</g>
<g font-size="26" text-anchor="end">
 <text x="1166" y="549">0.05</text>
 <text x="1166" y="616.2">0.03</text>
 <text x="1166" y="683.4">0.01</text>
 <text x="1166" y="784.2">0.03</text>
 <text x="1166" y="851.4">0.01</text>
 <text x="1166" y="952.2">0.03</text>
 <text x="1166" y="1019.4">0.01</text>
</g>
<g font-size="26" text-anchor="middle">
 <text x="1180" y="1078">8</text><text x="1272" y="1078">9</text><text x="1364" y="1078">10</text>
 <text x="1456" y="1078">11</text><text x="1548" y="1078">12</text><text x="1640" y="1078">13</text>
</g>
<text x="1423" y="1116" font-size="26" text-anchor="middle">Wavelength (µm)</text>
<text transform="translate(1096,810) rotate(-90)" font-size="26" text-anchor="middle">Reflectance</text>

<text x="1373" y="575" font-size="26"><tspan font-style="italic">N</tspan> = 17</text>
<text x="1373" y="749" font-size="26"><tspan font-style="italic">N</tspan> = 20</text>
<text x="1373" y="912" font-size="26"><tspan font-style="italic">N</tspan> = 23</text>
<rect x="1474" y="558" width="39" height="12" fill="#FDBE4A"/>
<text x="1516" y="571" font-size="26">: DO</text>
<rect x="1474" y="582" width="39" height="12" fill="#C00A2A"/>
<text x="1516" y="596" font-size="26">: DO+CO</text>
</svg>
</body></html>
